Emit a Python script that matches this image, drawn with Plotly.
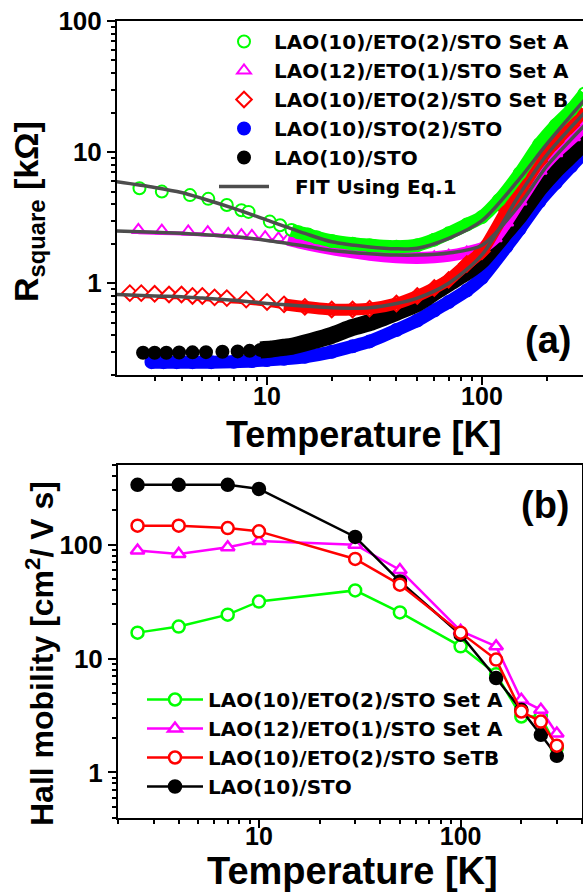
import numpy as np
import plotly.graph_objects as go

W, H = 583, 894
FONT = "Liberation Sans, Arial, Helvetica, sans-serif"
LEGFONT = "DejaVu Sans, Liberation Sans, sans-serif"

# ---------------- Panel (a): sheet resistance (kOhm) vs T (K) ----------------
T_green = [2.55, 3.24, 4.38, 5.33, 6.5, 7.6, 8.2, 10.3, 11.5, 13, 14, 15.5, 17, 20, 25, 30, 40, 50, 60, 70, 85, 100, 120, 150, 185, 220, 260, 300]
R_green = [5.3, 5.0, 4.7, 4.4, 3.95, 3.6, 3.5, 2.95, 2.77, 2.55, 2.45, 2.35, 2.24, 2.1, 2.0, 1.95, 1.9, 1.95, 2.15, 2.4, 2.8, 3.2, 4.3, 6.9, 11.5, 16, 21, 28]

T_mag = [2.52, 3.24, 4.3, 5.3, 6.6, 7.6, 8.5, 9.8, 11.3, 12.5, 14, 16, 20, 25, 30, 40, 50, 60, 70, 85, 100, 115, 130, 150, 186, 220, 266, 300]
R_mag = [2.55, 2.52, 2.48, 2.45, 2.38, 2.33, 2.3, 2.25, 2.2, 2.15, 2.05, 1.95, 1.82, 1.72, 1.65, 1.58, 1.56, 1.58, 1.62, 1.72, 1.85, 2.2, 2.9, 4.2, 7.2, 9.8, 13, 16]

T_red = [2.3, 2.6, 3, 3.5, 4, 4.5, 5, 5.7, 6.5, 8, 10, 12, 15, 20, 25, 30, 40, 50, 60, 70, 85, 100, 130, 150, 185, 220, 260, 300]
R_red = [0.84, 0.84, 0.83, 0.82, 0.82, 0.8, 0.8, 0.78, 0.77, 0.75, 0.72, 0.69, 0.66, 0.63, 0.63, 0.64, 0.7, 0.8, 0.92, 1.06, 1.4, 1.75, 3.6, 5.0, 8.5, 12, 16, 21]

T_blue = [2.9, 3.3, 3.8, 4.5, 5.5, 7, 8.5, 10, 12, 15, 20, 25, 30, 40, 50, 60, 70, 85, 100, 130, 150, 185, 220, 260, 300]
R_blue = [0.25, 0.25, 0.25, 0.25, 0.25, 0.252, 0.255, 0.26, 0.265, 0.275, 0.3, 0.33, 0.36, 0.44, 0.52, 0.62, 0.72, 0.88, 1.1, 1.9, 2.6, 4.2, 5.8, 7.8, 10]

T_black = [2.65, 3.0, 3.4, 3.9, 4.5, 5.2, 6.2, 7.3, 8.3, 9.3, 10.5, 12, 13, 16, 20, 25, 30, 40, 50, 60, 70, 85, 100, 130, 150, 185, 220, 260, 300]
R_black = [0.295, 0.295, 0.295, 0.296, 0.297, 0.298, 0.3, 0.302, 0.305, 0.31, 0.315, 0.325, 0.33, 0.36, 0.4, 0.46, 0.5, 0.6, 0.7, 0.85, 1.0, 1.22, 1.5, 2.5, 3.3, 5.3, 7.3, 9.5, 12]

T_fit = [2, 3, 4, 5, 7, 10, 15, 20, 30, 40, 50, 70, 100, 150, 200, 300]
fit_green = [5.94, 5.38, 4.92, 4.43, 3.72, 3.03, 2.40, 2.07, 1.89, 1.83, 1.85, 2.2, 3.0, 6.3, 11.5, 25]
fit_mag = [2.5, 2.45, 2.4, 2.35, 2.27, 2.12, 1.92, 1.78, 1.68, 1.64, 1.64, 1.7, 1.95, 4.0, 7.8, 16]
fit_red = [0.82, 0.8, 0.79, 0.77, 0.74, 0.7, 0.67, 0.65, 0.65, 0.7, 0.77, 1.0, 1.65, 4.8, 9.5, 20]

# ---------------- Panel (b): Hall mobility vs T ----------------
T_hall = [2.5, 4, 7, 10, 30, 50, 100, 150, 200, 250, 300]
mu_green = [16.9, 19.1, 24.3, 31.7, 39.7, 25.4, 12.8, 7.3, 3.1, 3.1, 1.65]
mu_mag = [89, 83, 95, 108, 100, 60, 17.5, 12.8, 4.35, 3.55, 2.2]
mu_red = [147, 147, 140, 131, 75, 44.6, 16.9, 9.8, 3.43, 2.8, 1.72]
mu_black = [336, 336, 336, 309, 117, 47.6, 16.2, 6.75, 3.55, 2.14, 1.4]

names_a = ["LAO(10)/ETO(2)/STO Set A", "LAO(12)/ETO(1)/STO Set A",
           "LAO(10)/ETO(2)/STO Set B", "LAO(10)/STO(2)/STO", "LAO(10)/STO"]
names_b = ["LAO(10)/ETO(2)/STO Set A", "LAO(12)/ETO(1)/STO Set A",
           "LAO(10)/ETO(2)/STO SeTB", "LAO(10)/STO"]
fit_name = "FIT Using Eq.1"

GREEN, MAG, RED, BLUE, BLACK, GRAY = "#00ff00", "#ff00ff", "#ff0000", "#0000ff", "#000000", "#4d4d4d"

fig = go.Figure()


def series_a(T, R, color, symbol, fill, name, band_from, band_w, rank, under_w=0):
    T = np.array(T, float)
    R = np.array(R, float)
    if under_w:
        fig.add_trace(go.Scatter(x=T, y=R * 0.96, mode="lines", showlegend=False, hoverinfo="skip",
                                 line=dict(color=color, width=under_w, shape="spline", smoothing=0.6),
                                 xaxis="x", yaxis="y"))
    fig.add_trace(go.Scatter(x=T, y=R, mode="markers", name=name, legend="legend", legendrank=rank,
                             marker=dict(symbol=symbol, size=12, color=fill, line=dict(color=color, width=2)),
                             xaxis="x", yaxis="y"))
    m = T >= band_from
    fig.add_trace(go.Scatter(x=T[m], y=R[m], mode="lines", showlegend=False, hoverinfo="skip",
                             line=dict(color=color, width=band_w, shape="spline", smoothing=0.6),
                             xaxis="x", yaxis="y"))


series_a(T_blue, R_blue, BLUE, "circle", BLUE, names_a[3], 0, 13, 4)
series_a(T_black, R_black, BLACK, "circle", BLACK, names_a[4], 9, 17, 5)
series_a(T_mag, R_mag, MAG, "triangle-up", "white", names_a[1], 12, 12, 2, under_w=4)
series_a(T_red, R_red, RED, "diamond", "white", names_a[2], 11, 12, 3, under_w=5)
series_a(T_green, R_green, GREEN, "circle", "white", names_a[0], 13, 13, 1)

for i, fy in enumerate([fit_green, fit_mag, fit_red]):
    fig.add_trace(go.Scatter(x=T_fit, y=fy, mode="lines", name="\u00a0\u00a0\u00a0" + fit_name,
                             showlegend=(i == 0), legend="legend", legendrank=6,
                             line=dict(color=GRAY, width=3.5, shape="spline", smoothing=0.8),
                             xaxis="x", yaxis="y"))

# panel (b)
for mu, color, symbol, fill, name, rank in [
        (mu_green, GREEN, "circle", "white", names_b[0], 1),
        (mu_mag, MAG, "triangle-up", "white", names_b[1], 2),
        (mu_black, BLACK, "circle", BLACK, names_b[3], 4),
        (mu_red, RED, "circle", "white", names_b[2], 3)]:
    fig.add_trace(go.Scatter(x=T_hall, y=mu, mode="lines+markers", name=name, legend="legend2",
                             legendrank=rank,
                             line=dict(color=color, width=2.5),
                             marker=dict(symbol=symbol, size=12, color=fill, line=dict(color=color, width=2.5)),
                             xaxis="x2", yaxis="y2"))

tickfont = dict(family=FONT, size=26, color="black", weight="bold")
axis_common = dict(type="log", showline=True, linecolor="black", linewidth=2, ticks="outside",
                   ticklen=8, tickwidth=2, tickcolor="black", showgrid=False, zeroline=False,
                   automargin=False, tickfont=tickfont)

minor_x_a = [2, 3, 4, 5, 6, 7, 8, 9, 20, 30, 40, 50, 60, 70, 80, 90, 200, 300]
minor_y_a = [0.2, 0.3, 0.4, 0.5, 0.6, 0.7, 0.8, 0.9, 2, 3, 4, 5, 6, 7, 8, 9, 20, 30, 40, 50, 60, 70, 80, 90]
minor_x_b = [2, 3, 4, 5, 6, 7, 8, 9, 20, 30, 40, 50, 60, 70, 80, 90, 200, 300, 400]
minor_y_b = [0.4, 0.5, 0.6, 0.7, 0.8, 0.9, 2, 3, 4, 5, 6, 7, 8, 9, 20, 30, 40, 50, 60, 70, 80, 90, 200, 300, 400, 500]
minor_style = dict(ticks="outside", ticklen=4, tickwidth=1.5, tickcolor="black", showgrid=False)


def ann(text, x, y, size, angle=0, family=FONT):
    return dict(text=text, x=x / W, y=1 - y / H, xref="paper", yref="paper", showarrow=False,
                xanchor="center", yanchor="middle", textangle=angle,
                font=dict(family=family, size=size, color="black", weight="bold"))


fig.update_layout(
    width=W, height=H, margin=dict(l=0, r=0, t=0, b=0, autoexpand=False),
    paper_bgcolor="white", plot_bgcolor="white", showlegend=True,
    xaxis=dict(axis_common, domain=[117 / W, 1.0], range=[0.302, 2.470], mirror=True,
               tickvals=[10, 100], ticktext=["10", "100"], ticklabelstandoff=-10,
               tickfont=dict(family=FONT, size=25, color="black", weight="bold"),
               minor=dict(minor_style, tickvals=minor_x_a), anchor="y"),
    yaxis=dict(axis_common, domain=[1 - 375 / H, 1 - 21 / H], range=[-0.70, 2.0], mirror=False,
               tickvals=[1, 10, 100], ticktext=["1", "10", "100"],
               minor=dict(minor_style, tickvals=minor_y_a), anchor="x"),
    xaxis2=dict(axis_common, domain=[118 / W, 582 / W], range=[0.301, 2.602], mirror=True,
                tickvals=[10, 100], ticktext=["10", "100"], ticklabelstandoff=-13,
                tickfont=dict(family=FONT, size=25, color="black", weight="bold"),
                minor=dict(minor_style, tickvals=minor_x_b), anchor="y2"),
    yaxis2=dict(axis_common, domain=[1 - 818 / H, 1 - 465 / H], range=[-0.40, 2.70], mirror=True,
                tickvals=[1, 10, 100], ticktext=["1", "10", "100"],
                minor=dict(minor_style, tickvals=minor_y_b), anchor="x2"),
    legend=dict(x=214 / W, y=1 - 22 / H, xanchor="left", yanchor="top", bgcolor="rgba(0,0,0,0)",
                itemwidth=50, font=dict(family=LEGFONT, size=20, color="black", weight="bold"),
                traceorder="normal"),
    legend2=dict(x=142 / W, y=1 - 680 / H, xanchor="left", yanchor="top", bgcolor="rgba(0,0,0,0)",
                 itemwidth=56, font=dict(family=LEGFONT, size=20, color="black", weight="bold"),
                 traceorder="normal"),
    annotations=[
        ann("Temperature [K]", 363, 434, 36),
        ann("R<sub>square</sub> [kΩ]", 28, 212, 34, -90),
        ann("Temperature [K]", 352, 871, 38),
        ann("Hall mobility [cm<sup>2</sup>/ V s]", 40, 654, 32, -90),
        ann("(a)", 548, 340, 38),
        ann("(b)", 545, 505, 38),
    ],
)

fig.write_html("out.html", config={"displayModeBar": False},
               post_script="document.body.style.margin='0';document.body.style.overflow='hidden';")
